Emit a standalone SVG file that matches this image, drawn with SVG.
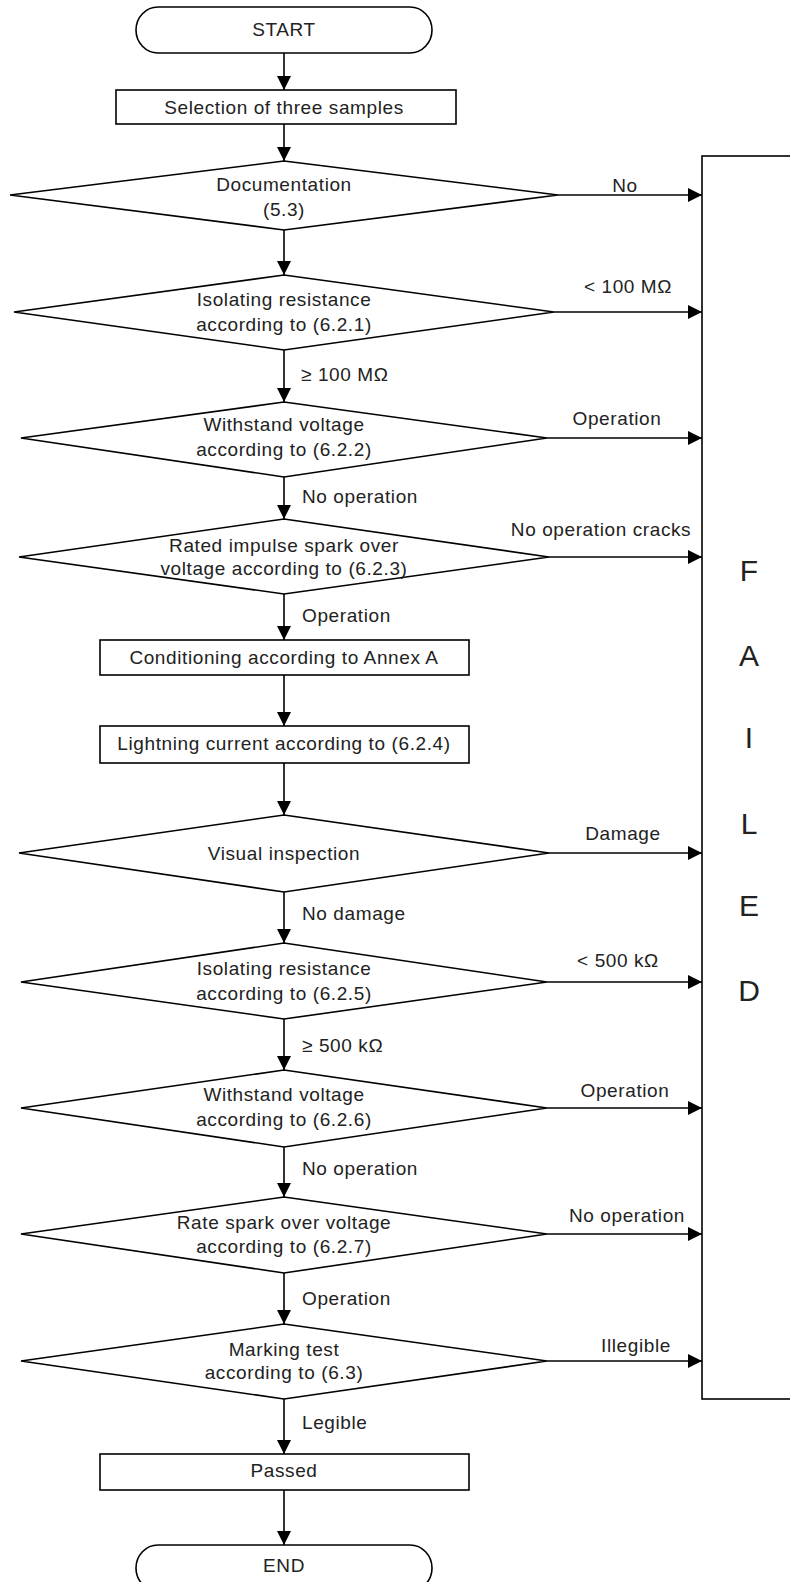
<svg xmlns="http://www.w3.org/2000/svg" width="790" height="1582" viewBox="0 0 790 1582">
<defs>
<marker id="ah" markerUnits="userSpaceOnUse" markerWidth="14" markerHeight="14" refX="14" refY="7" orient="auto">
<path d="M0,0 L14,7 L0,14 z" fill="#000"/>
</marker>
<style>
.s{fill:#fff;stroke:#000;stroke-width:1.6}
.c line{stroke:#000;stroke-width:1.6;marker-end:url(#ah)}
text{font-family:"Liberation Sans",Arial,sans-serif;font-size:19px;letter-spacing:0.6px;fill:#222}
.m{text-anchor:middle}
.big{font-size:30px;letter-spacing:0;text-anchor:middle}
</style>
</defs>
<rect width="790" height="1582" fill="#fff"/>
<g id="failed"><rect class="s" x="702" y="156" width="120" height="1243"/>
<text class="big" x="749" y="581">F</text>
<text class="big" x="749" y="666">A</text>
<text class="big" x="749" y="748">I</text>
<text class="big" x="749" y="834">L</text>
<text class="big" x="749" y="916">E</text>
<text class="big" x="749" y="1001">D</text></g>
<g id="start"><rect class="s" x="136" y="7" width="296" height="46" rx="22" ry="23"/><text class="m" x="284" y="36">START</text></g>
<g id="selection"><rect class="s" x="116" y="90" width="340" height="34"/><text class="m" x="284" y="114">Selection of three samples</text></g>
<g id="doc"><polygon class="s" points="284,161 558,195 284,230 10,195"/><text class="m" x="284" y="191">Documentation</text><text class="m" x="284" y="216">(5.3)</text></g>
<g id="iso1"><polygon class="s" points="284,275 554,312 284,350 14,312"/><text class="m" x="284" y="306">Isolating resistance</text><text class="m" x="284" y="331">according to (6.2.1)</text></g>
<g id="with1"><polygon class="s" points="284,402 547,438 284,477 21,438"/><text class="m" x="284" y="431">Withstand voltage</text><text class="m" x="284" y="456">according to (6.2.2)</text></g>
<g id="rated"><polygon class="s" points="284,519 549,557 284,594 19,557"/><text class="m" x="284" y="552">Rated impulse spark over</text><text class="m" x="284" y="575">voltage according to (6.2.3)</text></g>
<g id="cond"><rect class="s" x="100" y="640" width="369" height="35"/><text class="m" x="284" y="664">Conditioning according to Annex A</text></g>
<g id="light"><rect class="s" x="100" y="726" width="369" height="37"/><text class="m" x="284" y="750">Lightning current according to (6.2.4)</text></g>
<g id="visual"><polygon class="s" points="284,815 549,853 284,892 19,853"/><text class="m" x="284" y="860">Visual inspection</text></g>
<g id="iso2"><polygon class="s" points="284,943 547,982 284,1019 21,982"/><text class="m" x="284" y="975">Isolating resistance</text><text class="m" x="284" y="1000">according to (6.2.5)</text></g>
<g id="with2"><polygon class="s" points="284,1070 547,1108 284,1147 21,1108"/><text class="m" x="284" y="1101">Withstand voltage</text><text class="m" x="284" y="1126">according to (6.2.6)</text></g>
<g id="rate"><polygon class="s" points="284,1197 547,1234 284,1273 21,1234"/><text class="m" x="284" y="1229">Rate spark over voltage</text><text class="m" x="284" y="1253">according to (6.2.7)</text></g>
<g id="marking"><polygon class="s" points="284,1324 547,1361 284,1399 21,1361"/><text class="m" x="284" y="1356">Marking test</text><text class="m" x="284" y="1379">according to (6.3)</text></g>
<g id="passed"><rect class="s" x="100" y="1454" width="369" height="36"/><text class="m" x="284" y="1477">Passed</text></g>
<g id="end"><rect class="s" x="136" y="1545" width="296" height="46" rx="22" ry="23"/><text class="m" x="284" y="1572">END</text></g>
<g id="connectors" class="c">
<line x1="284" y1="53" x2="284" y2="90"/>
<line x1="284" y1="124" x2="284" y2="161"/>
<line x1="284" y1="230" x2="284" y2="275"/>
<line x1="284" y1="350" x2="284" y2="402"/>
<line x1="284" y1="477" x2="284" y2="519"/>
<line x1="284" y1="594" x2="284" y2="640"/>
<line x1="284" y1="675" x2="284" y2="726"/>
<line x1="284" y1="763" x2="284" y2="815"/>
<line x1="284" y1="892" x2="284" y2="943"/>
<line x1="284" y1="1019" x2="284" y2="1070"/>
<line x1="284" y1="1147" x2="284" y2="1197"/>
<line x1="284" y1="1273" x2="284" y2="1324"/>
<line x1="284" y1="1399" x2="284" y2="1454"/>
<line x1="284" y1="1490" x2="284" y2="1545"/>
<line x1="558" y1="195" x2="702" y2="195"/>
<line x1="554" y1="312" x2="702" y2="312"/>
<line x1="547" y1="438" x2="702" y2="438"/>
<line x1="549" y1="557" x2="702" y2="557"/>
<line x1="549" y1="853" x2="702" y2="853"/>
<line x1="547" y1="982" x2="702" y2="982"/>
<line x1="547" y1="1108" x2="702" y2="1108"/>
<line x1="547" y1="1234" x2="702" y2="1234"/>
<line x1="547" y1="1361" x2="702" y2="1361"/>
</g>
<g id="labels">
<text class="m" x="625" y="192">No</text>
<text class="m" x="628" y="293">&lt; 100 MΩ</text>
<text x="301" y="381">≥ 100 MΩ</text>
<text class="m" x="617" y="425">Operation</text>
<text x="302" y="503">No operation</text>
<text class="m" x="601" y="536">No operation cracks</text>
<text x="302" y="622">Operation</text>
<text class="m" x="623" y="840">Damage</text>
<text x="302" y="920">No damage</text>
<text class="m" x="618" y="967">&lt; 500 kΩ</text>
<text x="302" y="1052">≥ 500 kΩ</text>
<text class="m" x="625" y="1097">Operation</text>
<text x="302" y="1175">No operation</text>
<text class="m" x="627" y="1222">No operation</text>
<text x="302" y="1305">Operation</text>
<text class="m" x="636" y="1352">Illegible</text>
<text x="302" y="1429">Legible</text>
</g>
</svg>
